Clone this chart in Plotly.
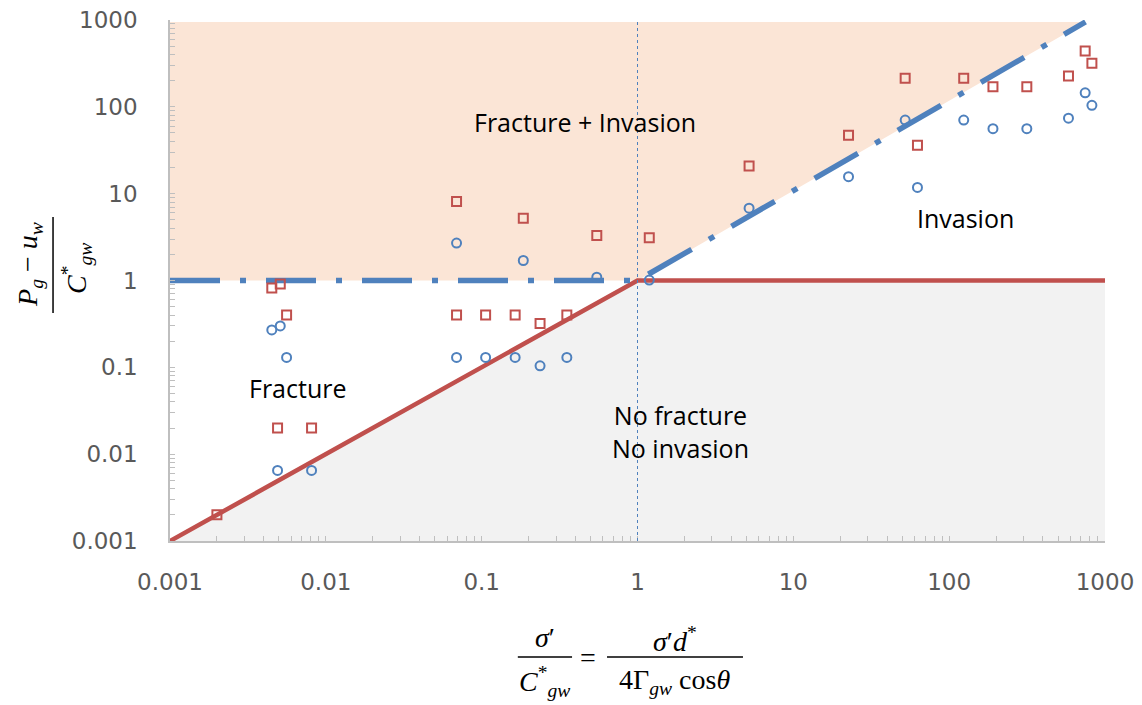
import plotly.graph_objects as go

# ---------------- data ----------------
red_x = [0.002, 0.0045, 0.0051, 0.0056, 0.0049, 0.0081,
         0.069, 0.106, 0.164, 0.352, 0.237,
         0.069, 0.185, 0.548, 1.19, 5.2,
         22.6, 52.2, 62.6, 124, 191, 315, 583, 746, 824]
red_y = [0.002, 0.82, 0.91, 0.40, 0.020, 0.020,
         0.40, 0.40, 0.40, 0.40, 0.32,
         8.1, 5.2, 3.3, 3.1, 20.8,
         47, 213, 36, 213, 170, 170, 226, 439, 317]

blue_x = [0.0045, 0.0051, 0.0056, 0.0049, 0.0081,
          0.069, 0.106, 0.164, 0.352, 0.237,
          0.069, 0.185, 0.548, 1.19, 5.2,
          22.6, 52.2, 62.6, 124, 191, 315, 583, 746, 824]
blue_y = [0.27, 0.30, 0.13, 0.0065, 0.0065,
          0.13, 0.13, 0.13, 0.13, 0.104,
          2.7, 1.7, 1.09, 1.01, 6.8,
          15.7, 70.5, 11.8, 70.5, 56, 56, 74, 145, 104]

# boundary lines
fracture_x = [0.001, 1, 1000]
fracture_y = [0.001, 1, 1]
invasion_x = [0.001, 1, 750]
invasion_y = [1, 1, 950]

# shaded regions
invasion_region_x = [0.001, 1, 750, 0.001, 0.001]
invasion_region_y = [1, 1, 950, 950, 1]
nofrac_region_x = [0.001, 1, 1000, 1000, 0.001]
nofrac_region_y = [0.001, 1, 1, 0.001, 0.001]

divider_x = 1

decade_vals = [0.001, 0.01, 0.1, 1, 10, 100, 1000]
decade_text = ["0.001", "0.01", "0.1", "1", "10", "100", "1000"]
minor_mult = [2, 3, 4, 5, 6, 7, 8, 9]

tick_vals = list(decade_vals)
tick_text = list(decade_text)
for d in decade_vals[:-1]:
    for m in minor_mult:
        tick_vals.append(m * d)
        tick_text.append("")

RED = "#C0504D"
BLUE = "#4F81BD"
PEACH = "#FBE5D6"
GRAY = "#F2F2F2"
AXIS = "#BFBFBF"

fig = go.Figure()

fig.add_trace(go.Scatter(x=invasion_region_x, y=invasion_region_y, mode="lines",
                         fill="toself", fillcolor=PEACH, line=dict(width=0),
                         hoverinfo="skip", showlegend=False))
fig.add_trace(go.Scatter(x=nofrac_region_x, y=nofrac_region_y, mode="lines",
                         fill="toself", fillcolor=GRAY, line=dict(width=0),
                         hoverinfo="skip", showlegend=False))

fig.add_trace(go.Scatter(x=fracture_x, y=fracture_y, mode="lines",
                         line=dict(color=RED, width=4.5), showlegend=False))
fig.add_trace(go.Scatter(x=invasion_x, y=invasion_y, mode="lines",
                         line=dict(color=BLUE, width=5.5, dash="50px,20px,6px,20px"),
                         showlegend=False))

fig.add_trace(go.Scatter(x=red_x, y=red_y, mode="markers",
                         marker=dict(symbol="square-open", size=9, color=RED,
                                     line=dict(width=2, color=RED)),
                         showlegend=False))
fig.add_trace(go.Scatter(x=blue_x, y=blue_y, mode="markers",
                         marker=dict(symbol="circle-open", size=9, color=BLUE,
                                     line=dict(width=2, color=BLUE)),
                         showlegend=False))

fig.add_shape(type="line", xref="x", yref="paper", x0=divider_x, x1=divider_x,
              y0=0, y1=1, line=dict(color=BLUE, width=1, dash="dot"), layer="above")

axis_common = dict(
    type="log", range=[-3, 3], tickmode="array", tickvals=tick_vals, ticktext=tick_text,
    ticks="inside", ticklen=5, tickcolor=AXIS, tickwidth=1, automargin=False,
    showline=True, linecolor=AXIS, linewidth=1.5, showgrid=False, zeroline=False,
    tickfont=dict(family="DejaVu Sans", size=23, color="#595959"),
)

fig.update_layout(
    width=1142, height=705,
    margin=dict(l=170, r=37, t=20, b=164),
    paper_bgcolor="white", plot_bgcolor="white",
    xaxis=dict(**axis_common, ticklabelstandoff=20),
    yaxis=dict(**axis_common, ticklabelstandoff=26),
)

ann_font = dict(family="Open Sans", size=25, color="black")
labels = [
    ("Fracture + Invasion", 0.444, 0.805),
    ("Invasion", 0.851, 0.62),
    ("Fracture", 0.137, 0.293),
    ("No fracture<br>No invasion", 0.546, 0.21),
]
for txt_, xp, yp in labels:
    fig.add_annotation(text=txt_, x=xp, y=yp, xref="paper", yref="paper",
                       xanchor="center", yanchor="middle",
                       showarrow=False, font=ann_font, align="center")

serif = dict(family="Liberation Serif", size=28, color="black")


def txt(text, xp, yp, angle=0):
    fig.add_annotation(text=text, x=xp, y=yp, xref="paper", yref="paper",
                       xanchor="center", yanchor="middle", textangle=angle,
                       showarrow=False, font=serif)


# y-axis title (rotated fraction)
txt("<i>P</i><sub><i>g</i></sub> − <i>u</i><sub><i>w</i></sub>", -0.1497, 0.530, -90)
txt("<i>C</i><sup>*</sup><sub><i>gw</i></sub>", -0.0995, 0.524, -90)
fig.add_shape(type="line", xref="paper", yref="paper", x0=-0.1251, x1=-0.1251,
              y0=0.4376, y1=0.622, line=dict(color="black", width=1.5))

# x-axis title
txt("<i>σ</i>′", 0.401, -0.186)
txt("<i>C</i><sup>*</sup><sub><i>gw</i></sub>", 0.401, -0.2706)
fig.add_shape(type="line", xref="paper", yref="paper", x0=0.372, x1=0.430,
              y0=-0.2227, y1=-0.2227, line=dict(color="black", width=1.5))
txt("=", 0.447, -0.2227)
txt("<i>σ</i>′<i>d</i><sup>*</sup>", 0.540, -0.190)
txt("4Γ<sub><i>gw</i></sub> cos<i>θ</i>", 0.540, -0.2706)
fig.add_shape(type="line", xref="paper", yref="paper", x0=0.4674, x1=0.6128,
              y0=-0.2227, y1=-0.2227, line=dict(color="black", width=1.5))

fig.write_html("out.html")
